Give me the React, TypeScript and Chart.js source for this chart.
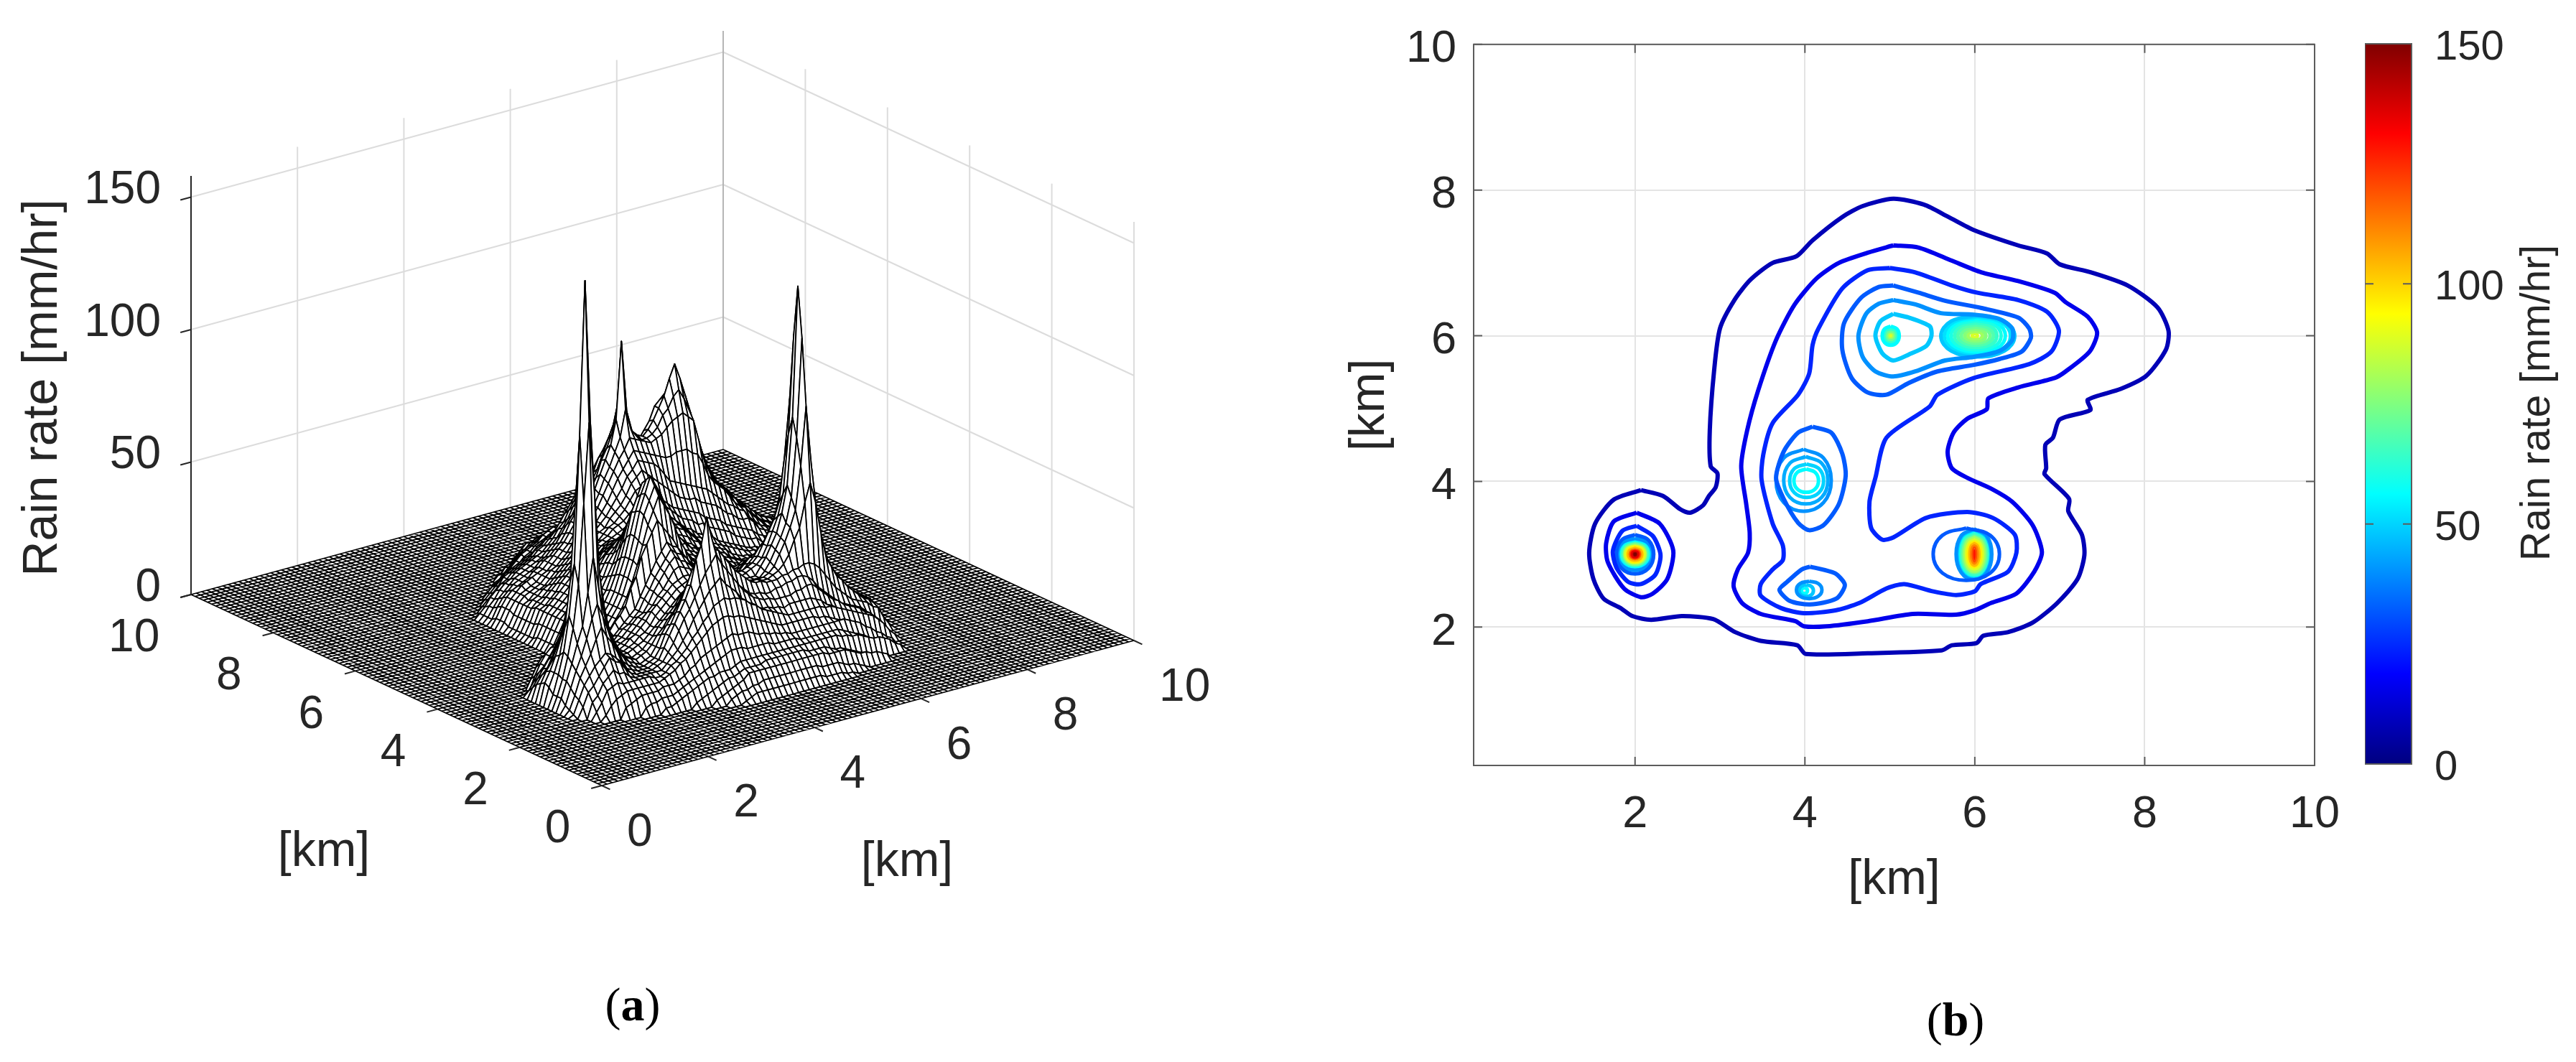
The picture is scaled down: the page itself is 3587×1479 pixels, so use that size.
import React, { useEffect, useRef } from 'react';
import Chart from 'chart.js/auto';

const FONT = 'Liberation Sans';
const TEXT = '#262626';

const rainRows: number[][] = [
  [8.1, 4.5],
  [8.0, 4.5, 1, 2, 3, 4, 5, 5, 5, 5, 4, 3, 2, 1],
  [7.9, 4.3, 2, 3, 5, 6, 7, 8, 8, 8, 9, 9, 8, 7, 6, 4, 3, 2, 1],
  [7.8, 4.2, 3, 4, 6, 8, 10, 10, 11, 11, 12, 12, 12, 11, 10, 8, 7, 6, 5, 4, 3],
  [7.7, 4.0, 2, 2, 4, 6, 8, 9, 11, 11, 12, 13, 13, 13, 14, 13, 12, 11, 10, 9, 8, 6, 5, 4, 3, 2, 1],
  [7.6, 4.0, 3, 4, 6, 8, 10, 11, 12, 13, 14, 14, 15, 15, 15, 14, 14, 12, 11, 9, 8, 7, 6, 5, 4, 3, 2],
  [7.5, 3.8, 2, 3, 5, 6, 8, 10, 11, 12, 14, 15, 16, 16, 17, 17, 17, 16, 16, 14, 13, 12, 11, 10, 9, 7, 6, 5, 4, 3, 3, 2, 1],
  [7.4, 3.8, 3, 5, 7, 9, 11, 12, 13, 14, 16, 17, 18, 18, 19, 19, 19, 18, 17, 16, 15, 14, 13, 12, 11, 9, 8, 7, 7, 6, 5, 4, 3, 2, 2],
  [7.3, 3.5, 1, 2, 3, 5, 6, 7, 9, 10, 12, 13, 14, 16, 17, 18, 19, 20, 20, 20, 20, 19, 18, 17, 16, 15, 14, 13, 13, 12, 11, 10, 9, 9, 8, 7, 6, 5, 3, 2, 1],
  [7.2, 3.4, 2, 4, 5, 7, 8, 9, 10, 12, 13, 15, 16, 17, 18, 19, 20, 21, 21, 21, 21, 21, 20, 19, 18, 17, 15, 15, 14, 14, 13, 12, 11, 11, 10, 9, 8, 7, 6, 5, 4, 3, 2],
  [7.1, 3.3, 1, 3, 5, 6, 8, 9, 10, 11, 12, 14, 15, 17, 18, 19, 21, 22, 23, 24, 24, 24, 23, 22, 21, 20, 19, 18, 16, 15, 14, 14, 13, 13, 12, 11, 11, 10, 9, 8, 7, 6, 5, 4, 3, 2, 1],
  [7.0, 3.2, 2, 4, 6, 8, 10, 11, 12, 13, 14, 15, 17, 18, 20, 21, 22, 23, 25, 26, 28, 27, 27, 26, 25, 23, 22, 21, 20, 18, 17, 16, 15, 14, 14, 13, 13, 12, 11, 10, 10, 9, 8, 7, 6, 5, 4, 3, 2],
  [6.9, 3.1, 1, 3, 5, 7, 9, 11, 12, 13, 14, 15, 17, 18, 20, 21, 23, 24, 27, 28, 30, 30, 31, 30, 29, 28, 26, 25, 24, 22, 21, 20, 19, 18, 17, 16, 15, 14, 14, 13, 12, 12, 11, 10, 9, 8, 7, 6, 4, 3, 2, 1],
  [6.8, 3.0, 2, 4, 6, 8, 11, 12, 13, 14, 15, 16, 18, 19, 21, 22, 24, 26, 29, 30, 32, 33, 34, 33, 33, 32, 31, 29, 28, 26, 25, 24, 23, 22, 21, 20, 19, 18, 17, 16, 15, 14, 14, 13, 12, 11, 11, 9, 8, 6, 5, 3, 2],
  [6.7, 2.9, 1, 3, 5, 7, 9, 11, 13, 14, 15, 16, 17, 18, 20, 21, 23, 25, 27, 31, 34, 36, 37, 39, 38, 37, 36, 34, 32, 31, 29, 28, 27, 26, 24, 23, 22, 21, 20, 19, 18, 17, 16, 15, 14, 13, 12, 12, 11, 9, 8, 6, 4, 3, 1],
  [6.6, 2.8, 2, 4, 7, 9, 11, 12, 14, 15, 16, 17, 18, 20, 21, 23, 25, 28, 31, 34, 37, 39, 41, 42, 43, 42, 41, 39, 38, 36, 34, 33, 32, 31, 30, 28, 27, 26, 25, 24, 23, 22, 21, 19, 18, 17, 16, 15, 14, 13, 12, 11, 11, 9, 8, 6, 4, 2, 1],
  [6.5, 2.8, 2, 5, 7, 10, 12, 13, 15, 16, 17, 18, 19, 20, 22, 24, 27, 29, 33, 36, 40, 43, 45, 46, 48, 46, 46, 44, 41, 40, 38, 37, 36, 35, 34, 32, 30, 29, 28, 27, 25, 24, 23, 21, 19, 18, 17, 16, 14, 13, 12, 12, 11, 10, 9, 7, 5, 3, 2],
  [6.4, 2.8, 2, 5, 8, 10, 12, 14, 15, 16, 17, 18, 19, 21, 23, 25, 28, 31, 35, 38, 41, 44, 48, 50, 52, 51, 50, 47, 45, 43, 42, 41, 40, 39, 38, 36, 35, 33, 32, 30, 29, 28, 27, 25, 24, 22, 21, 19, 18, 16, 15, 14, 13, 12, 11, 10, 9, 6, 3],
  [6.3, 2.8, 2, 6, 9, 11, 13, 14, 15, 16, 17, 19, 20, 22, 24, 27, 30, 33, 37, 40, 44, 47, 52, 55, 59, 57, 56, 52, 50, 49, 49, 50, 51, 51, 50, 48, 45, 40, 37, 34, 31, 30, 28, 26, 24, 23, 21, 20, 18, 16, 15, 14, 14, 13, 12, 11, 10, 8, 5, 2],
  [6.2, 2.8, 3, 7, 10, 12, 13, 14, 15, 17, 18, 20, 21, 23, 25, 28, 32, 35, 38, 41, 45, 49, 54, 59, 64, 62, 60, 57, 55, 56, 57, 60, 62, 63, 63, 63, 61, 55, 47, 42, 37, 34, 32, 29, 27, 25, 23, 21, 19, 17, 16, 15, 14, 13, 13, 12, 11, 9, 6, 2],
  [6.1, 2.8, 3, 7, 10, 12, 14, 15, 16, 17, 18, 20, 22, 24, 26, 29, 32, 35, 38, 43, 47, 53, 57, 62, 72, 64, 61, 58, 57, 60, 63, 68, 70, 72, 76, 72, 66, 60, 51, 44, 38, 35, 33, 30, 28, 25, 23, 21, 19, 17, 16, 15, 14, 13, 13, 12, 11, 9, 7, 3],
  [6.0, 2.8, 3, 7, 10, 12, 13, 14, 15, 17, 18, 20, 22, 24, 26, 29, 32, 35, 39, 44, 49, 54, 59, 68, 97, 70, 62, 60, 59, 61, 64, 68, 72, 78, 83, 77, 70, 63, 55, 48, 42, 38, 34, 32, 30, 27, 25, 23, 21, 19, 17, 16, 15, 14, 13, 12, 11, 9, 7, 3],
  [5.9, 2.8, 2, 6, 10, 12, 13, 14, 15, 17, 19, 20, 22, 24, 27, 29, 32, 36, 39, 43, 48, 52, 57, 62, 72, 64, 61, 59, 59, 60, 62, 66, 68, 72, 74, 70, 65, 56, 50, 44, 39, 36, 33, 31, 29, 26, 24, 21, 19, 17, 16, 15, 14, 14, 13, 12, 10, 8, 5, 2],
  [5.8, 2.8, 2, 6, 10, 11, 13, 14, 15, 17, 19, 21, 23, 25, 27, 30, 33, 36, 39, 43, 47, 51, 55, 58, 62, 61, 60, 59, 58, 59, 60, 62, 64, 65, 66, 64, 62, 54, 46, 41, 37, 35, 33, 30, 28, 25, 23, 21, 19, 17, 16, 15, 14, 13, 13, 12, 10, 7, 4, 1],
  [5.7, 2.8, 2, 6, 10, 12, 13, 15, 16, 18, 20, 22, 24, 26, 28, 30, 33, 35, 38, 41, 45, 49, 52, 55, 58, 57, 56, 55, 54, 53, 52, 52, 53, 53, 53, 51, 50, 46, 41, 38, 36, 34, 31, 28, 26, 25, 22, 20, 18, 16, 15, 14, 14, 13, 12, 11, 9, 6, 3],
  [5.6, 2.8, 2, 6, 10, 12, 13, 15, 17, 19, 21, 23, 25, 27, 29, 31, 33, 35, 37, 40, 43, 46, 50, 52, 55, 54, 53, 52, 50, 47, 44, 43, 42, 41, 40, 39, 38, 37, 35, 33, 31, 29, 28, 26, 25, 22, 20, 18, 17, 16, 15, 14, 13, 12, 11, 9, 7, 4, 1],
  [5.5, 2.8, 2, 6, 11, 12, 14, 16, 18, 20, 22, 24, 26, 28, 30, 32, 33, 34, 37, 39, 41, 44, 48, 50, 52, 50, 48, 46, 44, 42, 40, 38, 37, 36, 36, 34, 33, 32, 31, 29, 27, 26, 24, 23, 23, 21, 18, 17, 16, 15, 14, 13, 12, 11, 10, 8, 5, 2],
  [5.4, 2.8, 2, 6, 11, 12, 14, 16, 19, 21, 23, 25, 27, 29, 30, 31, 33, 35, 36, 38, 40, 43, 46, 47, 48, 45, 43, 40, 38, 36, 35, 34, 33, 32, 31, 29, 28, 27, 26, 24, 23, 22, 21, 20, 19, 17, 16, 15, 14, 13, 12, 11, 11, 9, 8, 5, 3],
  [5.3, 2.8, 2, 7, 11, 13, 15, 17, 19, 21, 23, 25, 27, 29, 31, 32, 33, 35, 36, 37, 39, 41, 43, 44, 44, 42, 40, 38, 36, 34, 32, 31, 30, 28, 28, 26, 25, 24, 23, 22, 20, 19, 18, 17, 17, 15, 14, 14, 13, 12, 12, 11, 10, 8, 6, 3, 1],
  [5.2, 2.8, 3, 7, 11, 13, 15, 17, 19, 21, 23, 25, 27, 29, 31, 32, 33, 34, 35, 36, 37, 39, 40, 40, 40, 39, 37, 35, 33, 31, 29, 28, 26, 25, 24, 23, 21, 20, 19, 18, 17, 16, 15, 15, 14, 14, 13, 12, 11, 11, 10, 8, 6, 4, 2],
  [5.1, 2.8, 3, 7, 11, 13, 15, 17, 19, 22, 24, 26, 28, 30, 32, 33, 33, 34, 35, 36, 36, 37, 38, 38, 37, 36, 35, 33, 32, 30, 28, 26, 25, 24, 22, 21, 20, 19, 18, 17, 16, 15, 15, 14, 13, 13, 12, 11, 9, 8, 7, 5, 3, 1],
  [5.0, 2.8, 3, 7, 11, 13, 15, 18, 20, 22, 25, 27, 30, 32, 33, 34, 34, 35, 35, 35, 36, 36, 36, 36, 35, 34, 33, 32, 31, 29, 27, 25, 24, 22, 21, 20, 19, 17, 16, 15, 15, 14, 14, 13, 13, 12, 11, 9, 8, 6, 4, 2, 1],
  [4.9, 2.8, 3, 7, 11, 13, 16, 18, 20, 23, 26, 29, 32, 33, 34, 35, 36, 36, 36, 36, 36, 36, 35, 34, 33, 32, 31, 30, 29, 27, 26, 24, 22, 21, 20, 19, 17, 16, 15, 15, 14, 14, 13, 12, 11, 10, 8, 6, 4, 2, 1],
  [4.8, 2.8, 3, 7, 11, 14, 16, 18, 21, 25, 29, 31, 33, 35, 36, 37, 38, 38, 37, 37, 36, 35, 34, 33, 32, 31, 30, 28, 27, 25, 24, 22, 21, 20, 19, 18, 17, 16, 15, 14, 14, 13, 12, 11, 10, 8, 6, 4, 2, 1],
  [4.7, 2.8, 3, 7, 11, 14, 16, 19, 22, 26, 30, 33, 35, 37, 38, 39, 40, 40, 38, 37, 36, 34, 33, 32, 31, 29, 29, 27, 26, 25, 23, 21, 20, 19, 18, 17, 16, 15, 15, 14, 13, 12, 11, 10, 8, 6, 4, 2],
  [4.6, 2.8, 3, 7, 11, 14, 17, 20, 23, 27, 31, 34, 36, 39, 41, 42, 43, 41, 39, 37, 35, 33, 32, 30, 29, 28, 27, 26, 25, 24, 23, 21, 19, 18, 17, 16, 15, 15, 14, 13, 13, 12, 11, 9, 8, 5, 3],
  [4.5, 2.8, 3, 7, 11, 14, 17, 20, 24, 27, 32, 35, 39, 43, 46, 46, 45, 43, 40, 38, 35, 33, 32, 30, 28, 27, 26, 25, 24, 23, 22, 20, 18, 17, 16, 16, 15, 14, 14, 13, 12, 12, 11, 9, 7, 5, 3],
  [4.4, 2.8, 3, 7, 11, 14, 17, 20, 24, 28, 32, 37, 42, 47, 51, 49, 47, 44, 41, 38, 35, 33, 31, 29, 28, 26, 25, 24, 23, 22, 21, 19, 18, 17, 16, 15, 15, 14, 14, 13, 13, 12, 11, 9, 7, 4, 2],
  [4.3, 2.8, 3, 8, 11, 14, 17, 21, 24, 29, 34, 40, 47, 52, 56, 54, 51, 47, 41, 38, 34, 33, 30, 28, 26, 25, 24, 23, 22, 22, 21, 20, 19, 18, 17, 16, 15, 14, 14, 13, 13, 12, 10, 8, 6, 4, 2],
  [4.2, 2.8, 4, 8, 12, 15, 18, 21, 25, 30, 36, 43, 52, 57, 62, 59, 56, 49, 42, 38, 34, 32, 30, 28, 26, 25, 24, 23, 22, 21, 21, 20, 20, 19, 18, 17, 16, 15, 14, 13, 13, 11, 10, 8, 6, 4, 2],
  [4.1, 2.8, 4, 8, 12, 15, 18, 21, 25, 31, 37, 45, 53, 59, 64, 60, 57, 50, 43, 38, 34, 31, 29, 27, 26, 24, 23, 23, 22, 22, 22, 21, 21, 20, 20, 18, 17, 15, 14, 13, 13, 11, 10, 8, 6, 4, 2],
  [4.0, 2.8, 5, 8, 11, 15, 18, 21, 25, 31, 37, 45, 54, 60, 66, 62, 58, 50, 43, 38, 34, 31, 28, 26, 25, 24, 23, 22, 22, 22, 22, 22, 23, 22, 21, 19, 17, 15, 14, 13, 13, 11, 10, 8, 6, 4, 2],
  [3.9, 2.7, 3, 6, 9, 12, 15, 18, 21, 25, 31, 37, 44, 53, 58, 63, 59, 55, 48, 42, 37, 33, 30, 28, 26, 25, 24, 24, 24, 24, 24, 24, 25, 25, 24, 22, 20, 17, 16, 14, 13, 13, 12, 10, 8, 6, 3, 1],
  [3.8, 1.6, 4, 8, 11, 12, 13, 12, 12, 10, 8, 7, 7, 8, 9, 10, 12, 15, 18, 21, 25, 30, 36, 43, 50, 55, 60, 56, 52, 47, 41, 37, 33, 31, 29, 27, 26, 25, 25, 25, 25, 25, 26, 26, 27, 26, 26, 23, 21, 19, 17, 15, 14, 13, 13, 12, 11, 8, 6, 3, 1],
  [3.7, 1.5, 1, 6, 10, 13, 15, 16, 14, 12, 10, 9, 8, 9, 10, 11, 13, 15, 18, 20, 23, 29, 33, 40, 44, 48, 52, 49, 46, 43, 38, 35, 32, 30, 28, 26, 25, 25, 25, 26, 26, 27, 28, 28, 28, 28, 27, 25, 22, 20, 17, 16, 14, 13, 13, 11, 10, 7, 5, 2],
  [3.6, 1.4, 2, 5, 8, 10, 13, 16, 20, 18, 16, 13, 10, 10, 10, 10, 11, 12, 14, 16, 18, 20, 22, 26, 30, 34, 38, 41, 44, 42, 41, 38, 35, 33, 31, 29, 27, 26, 25, 26, 26, 27, 28, 28, 29, 29, 30, 30, 30, 29, 28, 26, 23, 20, 18, 16, 15, 14, 13, 11, 10, 7, 4, 1],
  [3.5, 1.4, 4, 7, 10, 13, 16, 20, 25, 22, 19, 15, 12, 11, 11, 11, 12, 13, 15, 17, 18, 20, 22, 26, 29, 33, 36, 39, 42, 40, 39, 37, 34, 32, 31, 29, 28, 27, 25, 26, 27, 28, 30, 31, 32, 33, 34, 35, 36, 34, 32, 29, 27, 23, 20, 18, 16, 15, 14, 12, 10, 8, 4, 1],
  [3.4, 1.4, 6, 9, 11, 15, 20, 25, 32, 27, 23, 18, 15, 13, 12, 12, 12, 14, 15, 17, 19, 21, 22, 25, 29, 32, 35, 38, 40, 38, 37, 35, 33, 32, 30, 29, 29, 27, 25, 26, 28, 30, 32, 33, 34, 36, 38, 40, 43, 40, 37, 34, 31, 27, 23, 20, 17, 15, 14, 13, 11, 8, 5, 2],
  [3.3, 1.4, 7, 11, 14, 19, 25, 33, 38, 33, 27, 21, 17, 14, 13, 13, 13, 14, 15, 17, 19, 21, 23, 25, 28, 30, 33, 36, 37, 36, 35, 34, 33, 32, 31, 30, 30, 28, 27, 28, 29, 31, 33, 36, 38, 42, 46, 55, 62, 54, 42, 36, 32, 28, 24, 21, 18, 16, 14, 13, 11, 8, 5, 2],
  [3.2, 1.4, 8, 12, 17, 23, 30, 42, 55, 43, 32, 26, 21, 17, 14, 13, 13, 14, 16, 17, 19, 21, 24, 26, 28, 30, 32, 33, 34, 34, 33, 33, 32, 32, 31, 31, 30, 30, 30, 30, 31, 32, 34, 38, 42, 46, 52, 68, 90, 67, 47, 38, 33, 29, 24, 21, 18, 16, 14, 12, 11, 8, 5, 2],
  [3.1, 1.4, 7, 12, 18, 28, 45, 75, 105, 78, 46, 32, 24, 18, 14, 13, 13, 14, 15, 17, 18, 20, 23, 25, 27, 29, 31, 32, 33, 33, 32, 32, 31, 31, 30, 30, 30, 30, 29, 30, 31, 32, 34, 38, 43, 48, 56, 78, 115, 76, 51, 41, 34, 29, 25, 21, 18, 16, 14, 12, 11, 9, 6, 2],
  [3.0, 1.4, 5, 12, 20, 33, 52, 100, 158, 104, 56, 36, 24, 18, 14, 13, 13, 14, 15, 16, 18, 20, 22, 24, 26, 28, 30, 31, 32, 31, 31, 30, 30, 29, 29, 29, 29, 29, 29, 29, 29, 32, 35, 39, 43, 50, 60, 85, 134, 85, 55, 44, 36, 30, 25, 22, 19, 16, 14, 12, 11, 9, 6, 2],
  [2.9, 1.4, 5, 11, 19, 29, 45, 75, 105, 78, 46, 32, 23, 17, 14, 13, 12, 13, 14, 16, 18, 21, 23, 25, 27, 30, 32, 35, 36, 35, 34, 33, 32, 31, 30, 30, 30, 30, 29, 29, 29, 31, 34, 38, 42, 47, 56, 78, 115, 76, 51, 40, 33, 28, 24, 21, 18, 15, 13, 12, 11, 8, 5, 1],
  [2.8, 1.4, 5, 11, 17, 24, 30, 42, 55, 43, 33, 26, 21, 17, 14, 13, 12, 13, 14, 16, 19, 21, 24, 26, 29, 32, 35, 38, 41, 39, 38, 36, 35, 33, 32, 31, 31, 30, 30, 30, 30, 31, 33, 37, 41, 46, 52, 68, 90, 67, 47, 38, 30, 26, 23, 20, 17, 15, 13, 12, 11, 8, 4, 1],
  [2.7, 1.4, 3, 9, 15, 20, 26, 33, 38, 33, 27, 22, 18, 15, 13, 12, 11, 12, 13, 16, 20, 23, 26, 29, 33, 37, 41, 45, 48, 45, 43, 40, 38, 36, 34, 33, 32, 31, 31, 30, 30, 31, 32, 34, 37, 42, 46, 55, 62, 54, 42, 32, 28, 24, 22, 19, 17, 15, 13, 12, 10, 7, 3],
  [2.6, 1.4, 2, 7, 13, 17, 21, 26, 30, 26, 23, 19, 15, 13, 12, 11, 11, 12, 13, 16, 21, 24, 28, 32, 37, 42, 47, 49, 52, 48, 47, 44, 41, 38, 36, 34, 32, 31, 31, 30, 30, 30, 31, 31, 32, 32, 33, 33, 32, 30, 27, 24, 21, 19, 17, 15, 14, 13, 12, 10, 9, 5, 2],
  [2.5, 1.4, 1, 6, 11, 14, 17, 19, 21, 20, 18, 16, 13, 12, 11, 11, 11, 12, 13, 17, 21, 25, 29, 33, 38, 47, 52, 62, 53, 46, 42, 39, 36, 33, 31, 29, 28, 28, 27, 27, 28, 28, 29, 29, 30, 30, 29, 27, 24, 22, 20, 18, 16, 15, 14, 13, 12, 10, 8, 4, 1],
  [2.4, 1.5, 4, 9, 11, 14, 17, 20, 18, 17, 14, 12, 11, 11, 11, 11, 12, 13, 16, 19, 23, 27, 30, 34, 38, 42, 45, 48, 44, 41, 38, 35, 32, 30, 28, 27, 26, 26, 25, 25, 25, 25, 26, 26, 27, 27, 25, 23, 21, 19, 18, 16, 15, 14, 13, 11, 10, 8, 6, 3],
  [2.3, 1.6, 6, 8, 12, 14, 16, 14, 14, 12, 11, 11, 11, 11, 11, 11, 13, 15, 17, 20, 23, 27, 30, 33, 36, 38, 40, 37, 35, 33, 30, 28, 27, 25, 24, 24, 23, 23, 22, 23, 23, 23, 23, 23, 22, 21, 19, 18, 16, 15, 14, 13, 12, 11, 9, 6, 4, 2],
  [2.2, 1.6, 3, 6, 10, 11, 12, 11, 11, 11, 11, 11, 11, 10, 10, 11, 13, 14, 16, 18, 21, 23, 26, 28, 31, 32, 33, 32, 32, 31, 30, 28, 27, 25, 24, 23, 22, 21, 20, 20, 20, 20, 20, 20, 20, 19, 19, 18, 17, 16, 15, 14, 13, 12, 11, 9, 7, 4, 2],
  [2.1, 1.7, 2, 5, 7, 8, 9, 9, 9, 9, 9, 9, 9, 10, 11, 12, 14, 15, 17, 19, 21, 23, 25, 26, 27, 27, 26, 26, 25, 24, 23, 22, 21, 20, 19, 18, 18, 18, 18, 18, 18, 18, 17, 17, 16, 15, 14, 13, 12, 11, 10, 8, 6, 4, 2],
  [2.0, 2.0, 4, 5, 6, 7, 7, 7, 7, 8, 8, 8, 9, 10, 12, 13, 15, 16, 17, 18, 19, 20, 21, 20, 20, 20, 19, 18, 18, 17, 17, 16, 16, 15, 15, 15, 15, 15, 15, 15, 15, 15, 15, 15, 14, 13, 12, 10, 9, 7, 6, 4, 3],
  [1.9, 2.3, 3, 4, 4, 5, 5, 5, 6, 7, 8, 9, 10, 11, 12, 13, 14, 15, 16, 16, 16, 15, 15, 15, 15, 15, 14, 14, 14, 14, 14, 13, 13, 13, 13, 13, 13, 13, 13, 12, 11, 10, 9, 8, 6, 5, 3, 2],
  [1.8, 2.6, 2, 2, 3, 4, 5, 6, 7, 8, 9, 9, 10, 10, 10, 11, 12, 12, 12, 12, 12, 12, 12, 12, 12, 12, 12, 12, 12, 12, 12, 12, 12, 12, 12, 11, 11, 10, 10, 9, 8, 7, 7, 6, 5, 3, 2],
  [1.7, 3.1, 2, 3, 4, 5, 6, 7, 8, 8, 9, 10, 10, 10, 10, 11, 11, 11, 11, 11, 11, 11, 11, 10, 10, 10, 10, 9, 8, 8, 7, 6, 5, 4, 3, 2, 1],
  [1.6, 3.4, 2, 3, 4, 5, 6, 7, 9, 9, 9, 9, 9, 9, 9, 9, 9, 9, 9, 9, 9, 9, 9, 8, 8, 8, 8, 7, 6, 5, 5, 4, 4, 3, 2],
  [1.5, 3.6, 2, 3, 4, 4, 5, 5, 6, 6, 6, 6, 6, 6, 6, 6, 6, 6, 6, 5, 5, 5, 5, 4, 3, 3, 2, 1],
  [1.4, 3.8, 1, 2, 3, 3, 3, 3, 3, 3, 3, 3, 3, 3, 3, 3, 3, 2, 2, 2, 2, 1, 1],
  [1.3, 3.8],
];

const axisKm = [0, 2, 4, 6, 8, 10];
const rainTicks = [0, 50, 100, 150];
const planeTicks = [2, 4, 6, 8, 10];

// (b) contours, [x, y] in km
const contour8 = [[2.07, 3.88], [2.33, 3.8], [2.53, 3.62], [2.65, 3.57], [2.8, 3.67], [2.87, 3.8], [2.95, 3.92], [2.97, 4.11], [2.89, 4.21], [2.88, 4.7], [2.93, 5.51], [3, 6.1], [3.17, 6.49], [3.36, 6.77], [3.62, 7], [3.9, 7.09], [4.09, 7.31], [4.44, 7.63], [4.68, 7.78], [5.04, 7.88], [5.4, 7.8], [5.69, 7.63], [5.99, 7.45], [6.51, 7.24], [6.85, 7.13], [7, 6.98], [7.37, 6.87], [7.8, 6.69], [8.15, 6.39], [8.28, 6.07], [8.25, 5.81], [8.02, 5.45], [7.72, 5.27], [7.33, 5.12], [7.36, 4.98], [7, 4.85], [6.92, 4.6], [6.83, 4.5], [6.84, 4.18], [6.82, 4.1], [7.11, 3.76], [7.1, 3.59], [7.26, 3.27], [7.29, 2.99], [7.21, 2.66], [6.97, 2.33], [6.68, 2.06], [6.39, 1.93], [6.1, 1.88], [6.02, 1.78], [5.73, 1.75], [5.61, 1.68], [4.74, 1.64], [4.01, 1.63], [3.91, 1.75], [3.48, 1.81], [3.18, 1.93], [2.92, 2.11], [2.55, 2.15], [2.19, 2.1], [1.97, 2.15], [1.83, 2.26], [1.63, 2.39], [1.51, 2.66], [1.46, 3.02], [1.53, 3.42], [1.75, 3.75], [2.07, 3.88]];
const contour16West = [[2.02, 3.57], [2.29, 3.42], [2.45, 3.05], [2.38, 2.66], [2.21, 2.46], [2.07, 2.41], [1.87, 2.53], [1.68, 2.89], [1.66, 3.15], [1.75, 3.45], [2.02, 3.57]];
const contour16 = [[5.04, 7.24], [5.34, 7.21], [5.73, 7.03], [6.08, 6.87], [6.51, 6.75], [6.94, 6.59], [7.07, 6.46], [7.33, 6.26], [7.44, 6.04], [7.35, 5.78], [7.07, 5.51], [6.94, 5.42], [6.51, 5.29], [6.16, 5.14], [6.14, 4.99], [5.91, 4.86], [5.75, 4.67], [5.68, 4.41], [5.73, 4.18], [5.91, 4.05], [6.21, 3.89], [6.44, 3.72], [6.68, 3.4], [6.79, 3.03], [6.7, 2.76], [6.49, 2.46], [6.19, 2.33], [6, 2.23], [5.78, 2.17], [5.27, 2.18], [4.74, 2.08], [4.25, 2.01], [3.99, 2.01], [3.89, 2.08], [3.48, 2.18], [3.26, 2.33], [3.16, 2.56], [3.21, 2.79], [3.33, 3.02], [3.35, 3.29], [3.31, 3.68], [3.25, 4.21], [3.32, 4.7], [3.45, 5.25], [3.66, 5.94], [3.88, 6.43], [4.14, 6.79], [4.4, 7], [4.74, 7.14], [5.04, 7.24]];
const contour24West = [[2.02, 3.39], [2.21, 3.25], [2.3, 2.99], [2.24, 2.72], [2.07, 2.59], [1.92, 2.62], [1.78, 2.82], [1.74, 3.05], [1.85, 3.32], [2.02, 3.39]];
const contour24 = [[5, 6.93], [5.3, 6.87], [5.73, 6.69], [6.03, 6.59], [6.51, 6.49], [6.85, 6.33], [6.99, 6.07], [6.9, 5.78], [6.64, 5.61], [5.99, 5.42], [5.56, 5.19], [5.47, 5.03], [4.96, 4.6], [4.83, 4.05], [4.76, 3.72], [4.78, 3.36], [4.91, 3.2], [5.04, 3.23], [5.43, 3.5], [5.91, 3.58], [6.21, 3.5], [6.47, 3.27], [6.49, 3.02], [6.39, 2.76], [6.07, 2.59], [6, 2.49], [5.78, 2.44], [5.51, 2.49], [5.17, 2.59], [4.96, 2.53], [4.64, 2.33], [4.36, 2.23], [3.99, 2.19], [3.72, 2.26], [3.48, 2.43], [3.48, 2.59], [3.62, 2.79], [3.74, 2.92], [3.74, 3.12], [3.62, 3.42], [3.49, 4.02], [3.51, 4.37], [3.62, 4.8], [3.92, 5.19], [4.05, 5.48], [4.09, 5.87], [4.16, 6.1], [4.44, 6.65], [4.74, 6.9], [5, 6.93]];
const contour32 = [[5.04, 6.69], [5.34, 6.59], [5.65, 6.48], [6.08, 6.38], [6.51, 6.25], [6.64, 6.1], [6.66, 5.97], [6.55, 5.78], [6.29, 5.68], [5.99, 5.6], [5.56, 5.51], [5.22, 5.35], [4.96, 5.19], [4.74, 5.22], [4.55, 5.42], [4.44, 5.81], [4.46, 6.17], [4.66, 6.52], [4.87, 6.67], [5.04, 6.69]];
const contour32Mid = [[4.09, 4.75], [4.31, 4.67], [4.44, 4.38], [4.48, 4.08], [4.4, 3.69], [4.22, 3.4], [4.05, 3.33], [3.92, 3.43], [3.75, 3.76], [3.66, 4.05], [3.75, 4.41], [3.92, 4.67], [4.09, 4.75]];
const contour32South = [[4.06, 2.83], [4.35, 2.74], [4.47, 2.58], [4.37, 2.39], [4.06, 2.31], [3.82, 2.36], [3.7, 2.51], [3.79, 2.62], [3.96, 2.79], [4.06, 2.83]];
const contour40 = [[5.04, 6.49], [5.3, 6.43], [5.6, 6.31], [5.99, 6.29], [6.29, 6.23], [6.44, 6.1], [6.44, 5.94], [6.29, 5.79], [5.99, 5.71], [5.65, 5.66], [5.3, 5.51], [5.04, 5.44], [4.83, 5.51], [4.68, 5.71], [4.63, 6], [4.72, 6.3], [4.87, 6.44], [5.04, 6.49]];
const contour48 = [[5.04, 6.3], [5.22, 6.25], [5.47, 6.13], [5.49, 6], [5.43, 5.86], [5.22, 5.74], [5.04, 5.66], [4.91, 5.76], [4.83, 6], [4.89, 6.2], [5.04, 6.3]];

const tracedContours: [number, number[][]][] = [
  [8, contour8], [16, contour16West], [16, contour16], [24, contour24West], [24, contour24],
  [32, contour32], [32, contour32Mid], [32, contour32South], [40, contour40], [48, contour48],
];

// small closed rings around the peaks: [level, left, top, right, bottom]
const peakRings = [
  [32, 1.78, 3.27, 2.22, 2.73], [40, 1.79, 3.22, 2.21, 2.78], [48, 1.8, 3.22, 2.2, 2.78], [56, 1.81, 3.2, 2.19, 2.8],
  [64, 1.83, 3.19, 2.17, 2.81], [72, 1.84, 3.17, 2.16, 2.83], [80, 1.85, 3.16, 2.15, 2.84], [88, 1.87, 3.15, 2.13, 2.85],
  [96, 1.88, 3.13, 2.12, 2.87], [104, 1.9, 3.11, 2.1, 2.89], [112, 1.91, 3.1, 2.09, 2.9], [120, 1.92, 3.09, 2.08, 2.91],
  [128, 1.93, 3.08, 2.07, 2.92], [136, 1.95, 3.06, 2.05, 2.94], [144, 1.96, 3.05, 2.04, 2.95], [152, 1.98, 3.03, 2.02, 2.97],
  [32, 5.51, 3.36, 6.29, 2.64], [40, 5.78, 3.35, 6.2, 2.65], [48, 5.79, 3.34, 6.19, 2.66], [56, 5.8, 3.33, 6.19, 2.67],
  [64, 5.82, 3.3, 6.17, 2.7], [72, 5.84, 3.28, 6.15, 2.72], [80, 5.86, 3.25, 6.13, 2.75], [88, 5.88, 3.22, 6.11, 2.78],
  [96, 5.9, 3.2, 6.09, 2.8], [104, 5.92, 3.17, 6.07, 2.83], [112, 5.94, 3.14, 6.05, 2.86], [120, 5.96, 3.11, 6.03, 2.89],
  [128, 5.98, 3.07, 6.01, 2.93],
  [48, 5.6, 6.28, 6.47, 5.71], [52, 5.64, 6.26, 6.42, 5.73], [56, 5.68, 6.24, 6.36, 5.76], [60, 5.72, 6.21, 6.31, 5.79],
  [64, 5.76, 6.18, 6.26, 5.82], [68, 5.8, 6.15, 6.22, 5.85], [72, 5.84, 6.12, 6.18, 5.88], [76, 5.88, 6.09, 6.13, 5.91],
  [80, 5.92, 6.06, 6.09, 5.94], [88, 5.97, 6.03, 6.03, 5.97],
  [56, 4.91, 6.13, 5.11, 5.87], [64, 4.93, 6.1, 5.09, 5.9], [72, 4.95, 6.07, 5.07, 5.93], [80, 4.97, 6.05, 5.05, 5.95], [88, 4.99, 6.03, 5.03, 5.97],
  [40, 3.66, 4.44, 4.31, 3.59], [44, 3.75, 4.34, 4.27, 3.69], [50, 3.82, 4.24, 4.22, 3.78], [56, 3.87, 4.17, 4.16, 3.85],
  [40, 3.9, 2.63, 4.2, 2.39], [48, 3.93, 2.58, 4.1, 2.42], [56, 3.96, 2.54, 4.03, 2.46],
];

const jetStops = [
  [0, 0, 0, 128], [0.125, 0, 0, 255], [0.375, 0, 255, 255], [0.625, 255, 255, 0], [0.875, 255, 0, 0], [1, 128, 0, 0],
];

function jetColor(level: number) {
  const t = Math.min(1, level / 150);
  let i = 0;
  while (i < jetStops.length - 2 && t > jetStops[i + 1][0]) i++;
  const a = jetStops[i];
  const b = jetStops[i + 1];
  const k = (t - a[0]) / (b[0] - a[0]);
  const mix = (n: number) => Math.round(a[n] + (b[n] - a[n]) * k);
  return `rgb(${mix(1)},${mix(2)},${mix(3)})`;
}

// mesh lookup, zero where the table has no entry
const rowYs = rainRows.map((r) => r[0]);
const heightAt = (rowIdx: number, col: number) => {
  const row = rainRows[rowIdx];
  const first = Math.round(row[1] * 10);
  const v = row[2 + col - first];
  return col >= first && v !== undefined ? v : 0;
};

// orthographic view of the box, in page pixels per km (or per mm/hr)
const projU = (x: number, y: number) => 74.1 * x - 57.2 * y;
const projV = (x: number, y: number, z: number) => 20.2 * x + 26.6 * y + 3.69 * z;
const Z_TOP = 158;

const surfacePlugin = {
  id: 'surface',
  beforeDatasetsDraw(chart: any) {
    const { ctx, scales } = chart;
    const pt = (x: number, y: number, z: number): [number, number] => [
      scales.x.getPixelForValue(projU(x, y)),
      scales.y.getPixelForValue(projV(x, y, z)),
    ];
    const seg = (a: [number, number], b: [number, number]) => {
      ctx.beginPath();
      ctx.moveTo(a[0], a[1]);
      ctx.lineTo(b[0], b[1]);
      ctx.stroke();
    };
    ctx.save();

    // back walls
    ctx.strokeStyle = '#dcdcdc';
    ctx.lineWidth = 2;
    for (const z of rainTicks) {
      if (z === 0) continue;
      seg(pt(0, 10, z), pt(10, 10, z));
      seg(pt(10, 10, z), pt(10, 0, z));
    }
    for (const v of axisKm) {
      seg(pt(v, 10, 0), pt(v, 10, Z_TOP));
      seg(pt(10, v, 0), pt(10, v, Z_TOP));
    }
    ctx.strokeStyle = '#b5b5b5';
    seg(pt(10, 10, 0), pt(10, 10, Z_TOP));

    // floor at 0.1 km spacing
    ctx.strokeStyle = '#000';
    ctx.lineWidth = 1.8;
    ctx.beginPath();
    for (let i = 0; i <= 100; i++) {
      const v = i / 10;
      let a = pt(v, 0, 0);
      let b = pt(v, 10, 0);
      ctx.moveTo(a[0], a[1]);
      ctx.lineTo(b[0], b[1]);
      a = pt(0, v, 0);
      b = pt(10, v, 0);
      ctx.moveTo(a[0], a[1]);
      ctx.lineTo(b[0], b[1]);
    }
    ctx.stroke();

    // hidden line surface, back to front
    ctx.fillStyle = '#fff';
    ctx.lineWidth = 1.8;
    ctx.lineJoin = 'round';
    for (let r = 0; r < rainRows.length - 1; r++) {
      for (let c = 90; c > 10; c--) {
        const zs = [heightAt(r, c + 1), heightAt(r, c), heightAt(r + 1, c), heightAt(r + 1, c + 1)];
        if (zs.every((z) => z === 0)) continue;
        const xa = c / 10;
        const xb = (c + 1) / 10;
        const p = [pt(xb, rowYs[r], zs[0]), pt(xa, rowYs[r], zs[1]), pt(xa, rowYs[r + 1], zs[2]), pt(xb, rowYs[r + 1], zs[3])];
        ctx.beginPath();
        ctx.moveTo(p[0][0], p[0][1]);
        for (let i = 1; i < 4; i++) ctx.lineTo(p[i][0], p[i][1]);
        ctx.closePath();
        ctx.fill();
        ctx.stroke();
      }
    }

    // axes and labels
    ctx.strokeStyle = TEXT;
    ctx.lineWidth = 2;
    seg(pt(0, 10, 0), pt(0, 10, Z_TOP));
    ctx.fillStyle = TEXT;
    ctx.font = `64px "${FONT}"`;
    ctx.textBaseline = 'middle';
    ctx.textAlign = 'right';
    for (const z of rainTicks) {
      const p = pt(0, 10, z);
      seg(p, pt(-0.2, 10, z));
      ctx.fillText(String(z), p[0] - 42, p[1] - 9);
    }
    for (const v of axisKm) {
      seg(pt(0, v, 0), pt(-0.2, v, 0));
      seg(pt(v, 0, 0), pt(v, -0.2, 0));
      const ly = pt(-0.82, v, 0);
      ctx.textAlign = 'right';
      ctx.fillText(String(v), ly[0] + 17, ly[1] + 45);
      const lx = pt(v, -0.91, 0);
      ctx.textAlign = 'left';
      ctx.fillText(String(v), lx[0] - 17, lx[1] + 42);
    }
    ctx.textAlign = 'center';
    ctx.font = `68px "${FONT}"`;
    ctx.fillText('[km]', 451, 1187);
    ctx.fillText('[km]', 1263, 1201);
    ctx.translate(60, 540);
    ctx.rotate(-Math.PI / 2);
    ctx.font = `68px "${FONT}"`;
    ctx.fillText('Rain rate [mm/hr]', 0, 0);
    ctx.restore();
  },
};

// MATLAB style box with inward ticks
const boxPlugin = {
  id: 'box',
  afterDraw(chart: any) {
    const { ctx, chartArea: a, scales } = chart;
    ctx.save();
    ctx.strokeStyle = '#5c5c5c';
    ctx.lineWidth = 2;
    ctx.strokeRect(a.left, a.top, a.right - a.left, a.bottom - a.top);
    ctx.beginPath();
    if (scales.x.type === 'linear') {
      for (const v of planeTicks) {
        const px = scales.x.getPixelForValue(v);
        ctx.moveTo(px, a.bottom);
        ctx.lineTo(px, a.bottom - 12);
        ctx.moveTo(px, a.top);
        ctx.lineTo(px, a.top + 12);
      }
    }
    const yTicks = scales.x.type === 'linear' ? planeTicks : rainTicks;
    for (const v of yTicks) {
      const py = scales.y.getPixelForValue(v);
      ctx.moveTo(a.left, py);
      ctx.lineTo(a.left + 12, py);
      ctx.moveTo(a.right, py);
      ctx.lineTo(a.right - 12, py);
    }
    ctx.stroke();
    ctx.restore();
  },
};

const colorbarTitle = {
  id: 'colorbarTitle',
  afterDraw(chart: any) {
    const { ctx } = chart;
    ctx.save();
    ctx.translate(241, 561);
    ctx.rotate(-Math.PI / 2);
    ctx.font = `57px "${FONT}"`;
    ctx.fillStyle = TEXT;
    ctx.textAlign = 'center';
    ctx.textBaseline = 'middle';
    ctx.fillText('Rain rate [mm/hr]', 0, 0);
    ctx.restore();
  },
};

function contourDatasets() {
  const sets: any[] = tracedContours.map(([level, pts]) => ({
    data: pts.map(([x, y]) => ({ x, y })),
    showLine: true,
    pointRadius: 0,
    borderColor: jetColor(level),
    borderWidth: 6,
    tension: 0.25,
  }));
  for (const [level, left, top, right, bottom] of peakRings) {
    const cx = (left + right) / 2;
    const cy = (top + bottom) / 2;
    const dx = (right - left) * 0.36;
    const dy = (top - bottom) * 0.36;
    sets.push({
      data: [
        { x: cx, y: top }, { x: cx + dx, y: cy + dy }, { x: right, y: cy }, { x: cx + dx, y: cy - dy },
        { x: cx, y: bottom }, { x: cx - dx, y: cy - dy }, { x: left, y: cy }, { x: cx - dx, y: cy + dy }, { x: cx, y: top },
      ],
      showLine: true,
      pointRadius: 0,
      borderColor: jetColor(level),
      borderWidth: 5,
      tension: 0.4,
    });
  }
  return sets;
}

const App: React.FC = () => {
  const surfaceRef = useRef<HTMLCanvasElement | null>(null);
  const contourRef = useRef<HTMLCanvasElement | null>(null);
  const barRef = useRef<HTMLCanvasElement | null>(null);

  useEffect(() => {
    const base = {
      responsive: false,
      animation: false as const,
      devicePixelRatio: 1,
      plugins: { legend: { display: false }, tooltip: { enabled: false } },
    };

    const surface = new Chart(surfaceRef.current!, {
      type: 'scatter',
      data: { datasets: [{ data: [] }] },
      options: {
        ...base,
        layout: { padding: 0 },
        scales: {
          x: { type: 'linear', min: -838, max: 952, display: false },
          y: { type: 'linear', min: -385, max: 1094, display: false },
        },
      },
      plugins: [surfacePlugin],
    } as any);

    const planeAxis = (size: 'width' | 'height', px: number, title: any, pad: number, labelOffset: number) => ({
      type: 'linear',
      min: 0.1,
      max: 10,
      afterBuildTicks: (axis: any) => { axis.ticks = planeTicks.map((value) => ({ value })); },
      afterFit: (axis: any) => { axis[size] = px; },
      grid: { color: '#e4e4e4', lineWidth: 2, drawTicks: false },
      border: { display: false },
      ticks: { color: TEXT, font: { family: FONT, size: 63 }, padding: pad, labelOffset, maxRotation: 0, minRotation: 0, autoSkip: false },
      title,
    });

    const contour = new Chart(contourRef.current!, {
      type: 'scatter',
      data: { datasets: contourDatasets() },
      options: {
        ...base,
        layout: { padding: { top: 61, right: 67, left: 0, bottom: 0 } },
        scales: {
          x: planeAxis('height', 413, { display: true, text: '[km]', color: TEXT, font: { family: FONT, size: 68 }, padding: { top: 0, bottom: 212 } }, 31, 0),
          y: planeAxis('width', 252, { display: true, text: '[km]', color: TEXT, font: { family: FONT, size: 68 }, padding: { top: 67, bottom: 0 } }, 24, 7),
        },
      },
      plugins: [boxPlugin],
    } as any);

    const bar = new Chart(barRef.current!, {
      type: 'bar',
      data: {
        labels: ['rain'],
        datasets: [{
          data: [[rainTicks[0], rainTicks[rainTicks.length - 1]]],
          barPercentage: 1,
          categoryPercentage: 1,
          backgroundColor: (c: any) => {
            const area = c.chart.chartArea;
            if (!area) return '#000';
            const g = c.chart.ctx.createLinearGradient(0, area.bottom, 0, area.top);
            jetStops.forEach((s) => g.addColorStop(s[0], `rgb(${s[1]},${s[2]},${s[3]})`));
            return g;
          },
        }],
      },
      options: {
        ...base,
        layout: { padding: { top: 61, bottom: 415, left: 0, right: 0 } },
        scales: {
          x: { display: false },
          y: {
            position: 'right',
            min: 0,
            max: 150,
            afterBuildTicks: (axis: any) => { axis.ticks = rainTicks.map((value) => ({ value })); },
            afterFit: (axis: any) => { axis.width = 229; },
            grid: { display: false },
            border: { display: false },
            ticks: { color: TEXT, font: { family: FONT, size: 58 }, padding: 24, labelOffset: 6 },
          },
        },
      },
      plugins: [boxPlugin, colorbarTitle],
    } as any);

    return () => {
      surface.destroy();
      contour.destroy();
      bar.destroy();
    };
  }, []);

  const caption: React.CSSProperties = {
    position: 'absolute',
    font: '66px "Liberation Serif"',
    color: '#000',
    transform: 'translate(-50%, -50%)',
  };

  return (
    <div style={{ position: 'fixed', left: 0, top: 0, width: 3587, height: 1479, background: '#fff', overflow: 'hidden' }}>
      <canvas ref={surfaceRef} width={1790} height={1479} style={{ position: 'absolute', left: 0, top: 0 }} />
      <canvas ref={contourRef} width={1490} height={1479} style={{ position: 'absolute', left: 1800, top: 0 }} />
      <canvas ref={barRef} width={294} height={1479} style={{ position: 'absolute', left: 3293, top: 0 }} />
      <div style={{ ...caption, left: 881, top: 1399 }}>(<b>a</b>)</div>
      <div style={{ ...caption, left: 2723, top: 1420 }}>(<b>b</b>)</div>
    </div>
  );
};

export default App;
